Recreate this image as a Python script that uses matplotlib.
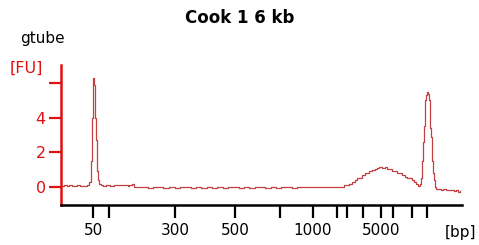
import matplotlib
matplotlib.use('Agg')
from matplotlib import pyplot as plt

# Electropherogram trace: migration position vs fluorescence [FU]
pos = [62, 66, 68, 70, 73, 76, 78, 82, 86, 88, 90, 91, 92, 93, 94, 95, 96, 97, 98,
       100, 102, 104, 108, 112, 116, 120, 124, 127, 128, 130, 133, 135,
       140, 146, 150, 156, 160, 166, 172, 178, 182, 188, 194, 198, 204, 210, 214,
       220, 226, 230, 236, 242, 246, 252, 258, 262, 268, 274, 278, 284, 290, 294,
       300, 306, 310, 316, 322, 326, 332, 338, 343,
       345, 348, 350, 353, 356, 358, 360, 363, 366, 368, 370, 373, 376, 378, 380,
       383, 386, 388, 390, 393, 396, 398, 400, 403, 406, 408, 410, 413, 415, 417,
       419, 420, 421, 422, 423, 424, 425, 426, 427, 428, 429, 430, 431, 432, 433,
       434, 435, 437, 440, 442, 444, 447, 450, 452, 455, 457, 459, 460]
fu = [0.05, 0.1, 0.05, 0.1, 0.05, 0.05, 0.1, 0.05, 0.05, 0.1, 0.3, 1.5, 4.0, 6.3, 5.9, 4.0, 2.7, 0.9, 0.4,
      0.2, 0.1, 0.05, 0.1, 0.05, 0.1, 0.1, 0.1, 0.1, 0.05, 0.1, 0.15, 0.0,
      0.0, 0.0, -0.08, 0.0, 0.0, -0.08, 0.0, -0.08, 0.0, 0.0, -0.08, 0.0, -0.08, 0.0, -0.08,
      0.0, -0.08, 0.0, 0.0, -0.08, 0.0, -0.08, 0.0, 0.0, -0.08, 0.0, -0.08, 0.0, 0.0, -0.08,
      0.0, 0.0, 0.0, 0.0, 0.0, 0.0, 0.0, 0.0, 0.0,
      0.1, 0.1, 0.2, 0.3, 0.4, 0.5, 0.5, 0.7, 0.8, 0.8, 0.9, 1.0, 1.05, 1.1, 1.15,
      1.1, 1.15, 1.05, 1.05, 0.95, 0.9, 0.8, 0.8, 0.7, 0.6, 0.5, 0.5, 0.4, 0.3, 0.15,
      0.05, 0.2, 0.5, 1.5, 2.6, 3.5, 5.0, 5.3, 5.5, 5.4, 5.0, 3.4, 2.9, 1.5, 0.8,
      0.4, 0.0, -0.1, -0.1, -0.15, -0.1, -0.2, -0.15, -0.2, -0.25, -0.2, -0.3, -0.25]

# ladder positions and sizes (only some are labelled)
ladder_pos = [93, 109, 175, 235, 280, 313, 337, 347, 363, 381, 393, 412, 427]
ladder_lbl = ['50', '', '300', '500', '', '1000', '', '', '', '5000', '', '', '']

fu_ticks = [0, 2, 4, 6]
fu_lbl = ['0', '2', '4', '']

red = '#e01010'

fig = plt.figure(figsize=(4.79, 2.45), dpi=100)
ax = fig.add_axes([61 / 479, 1 - 205 / 245, 401 / 479, 140 / 245])
ax.plot(pos, fu, color='#c24040', lw=0.9, drawstyle='steps-mid')

ax.set_xlim(61, 462)
ax.set_ylim(-1.04, 7.05)

for s in ['top', 'right']:
    ax.spines[s].set_visible(False)
ax.spines['left'].set_color(red)
ax.spines['left'].set_linewidth(1.8)
ax.spines['bottom'].set_color('black')
ax.spines['bottom'].set_linewidth(1.8)

ax.set_xticks(ladder_pos)
ax.set_xticklabels(ladder_lbl)
ax.set_yticks(fu_ticks)
ax.set_yticklabels(fu_lbl)
ax.tick_params(axis='x', direction='out', length=9, width=1.6, colors='black',
               labelsize=11, pad=4)
ax.tick_params(axis='y', direction='out', length=9, width=1.6, colors=red,
               labelcolor=red, labelsize=11.5, pad=2)

fig.text(0.5, 1 - 18 / 245, 'Cook 1 6 kb', ha='center', va='center',
         fontsize=12, fontweight='bold')
fig.text(42 / 479, 1 - 39 / 245, 'gtube', ha='center', va='center', fontsize=11)
fig.text(26 / 479, 1 - 68 / 245, '[FU]', ha='center', va='center', fontsize=11.5,
         color=red)
fig.text(460 / 479, 1 - 232 / 245, '[bp]', ha='center', va='center', fontsize=11)

fig.savefig('out.png', dpi=100)
